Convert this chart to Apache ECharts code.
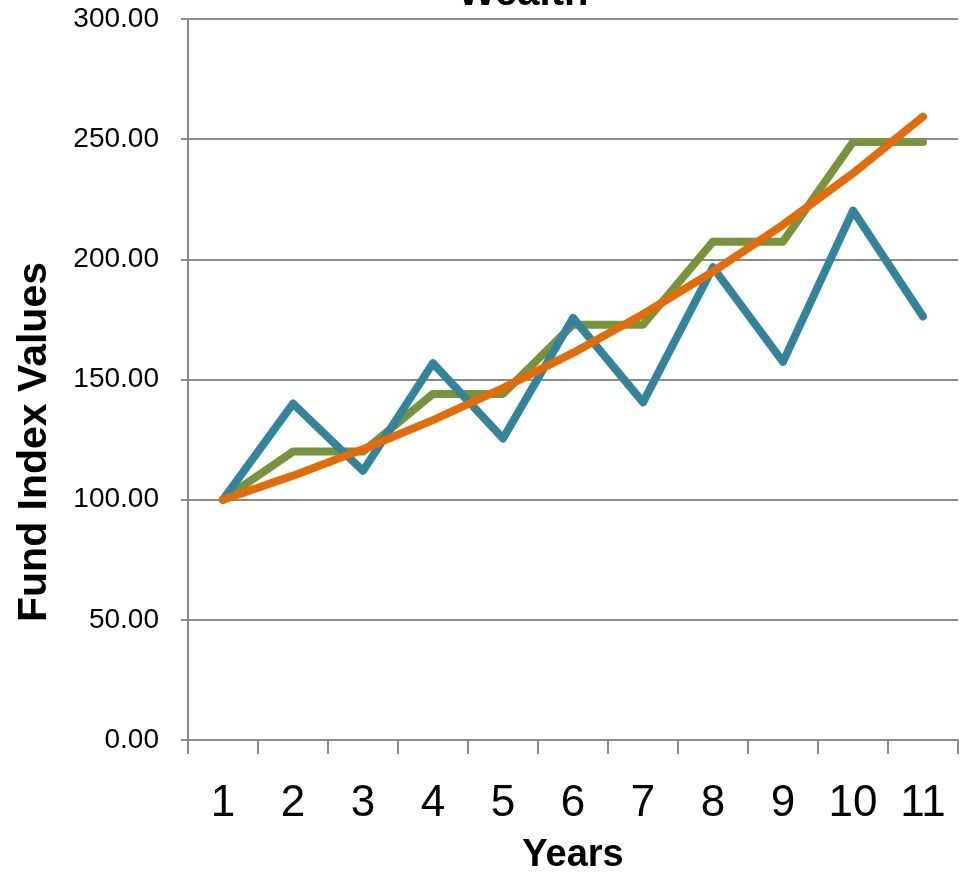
<!DOCTYPE html>
<html>
<head>
<meta charset="utf-8">
<script src="https://cdn.jsdelivr.net/npm/echarts@6/dist/echarts.min.js"></script>
<style>html,body{margin:0;padding:0;background:#fff}#c{width:961px;height:874px}</style>
</head>
<body>
<div id="c"></div>
<script>
var years = ['1','2','3','4','5','6','7','8','9','10','11'];
var volatileFund = [100, 140, 112, 156.8, 125.44, 175.62, 140.49, 196.69, 157.35, 220.29, 176.23];
var stepFund = [100, 120, 120, 144, 144, 172.8, 172.8, 207.36, 207.36, 248.83, 248.83];
var steadyFund = [100, 110, 121, 133.1, 146.41, 161.05, 177.16, 194.87, 214.36, 235.79, 259.37];
var yTicks = {min: 0, max: 300, interval: 50};

var FONT = '"Liberation Sans", Arial, sans-serif';
var chart = echarts.init(document.getElementById('c'), null, {renderer: 'canvas'});
var lineStyle = function (c) { return {color: c, width: 8, cap: 'round', join: 'round'}; };
chart.setOption({
  animation: false,
  backgroundColor: '#ffffff',
  title: {
    text: 'Wealth', left: 453, top: -31,
    textStyle: {fontFamily: FONT, fontWeight: 'bold', fontSize: 40, color: '#000'}
  },
  grid: {left: 188, right: 3, top: 19, bottom: 134, containLabel: false, outerBoundsMode: 'none'},
  xAxis: {
    type: 'category', data: years, boundaryGap: true,
    name: 'Years', nameLocation: 'middle', nameGap: 116,
    nameTextStyle: {fontFamily: FONT, fontWeight: 'bold', fontSize: 38, color: '#000', verticalAlign: 'middle'},
    axisLine: {show: true, lineStyle: {color: '#8a8a8a', width: 2}},
    axisTick: {show: true, length: 14, interval: 0, alignWithLabel: false, lineStyle: {color: '#8a8a8a', width: 2}},
    axisLabel: {interval: 0, margin: 42, fontFamily: FONT, fontSize: 44, color: '#000'},
    splitLine: {show: false}
  },
  yAxis: {
    type: 'value', min: yTicks.min, max: yTicks.max, interval: yTicks.interval,
    axisLine: {show: true, lineStyle: {color: '#8a8a8a', width: 2}},
    axisTick: {show: true, length: 7, lineStyle: {color: '#8a8a8a', width: 2}},
    axisLabel: {margin: 29, fontFamily: FONT, fontSize: 28, color: '#000',
      formatter: function (v) { return v.toFixed(2); }},
    splitLine: {show: true, lineStyle: {color: '#8a8a8a', width: 2}}
  },
  graphic: [{
    type: 'text', x: 35, y: 442, rotation: Math.PI / 2,
    style: {text: 'Fund Index Values', fontFamily: FONT, fontWeight: 'bold', fontSize: 41,
      fill: '#000', align: 'center', verticalAlign: 'middle'}
  }],
  series: [
    {type: 'line', data: stepFund, showSymbol: false, symbol: 'none', lineStyle: lineStyle('#77933C'), z: 2},
    {type: 'line', data: volatileFund, showSymbol: false, symbol: 'none', lineStyle: lineStyle('#31849B'), z: 3},
    {type: 'line', data: steadyFund, showSymbol: false, symbol: 'none', lineStyle: lineStyle('#E36C09'), z: 4}
  ]
});
</script>
</body>
</html>
